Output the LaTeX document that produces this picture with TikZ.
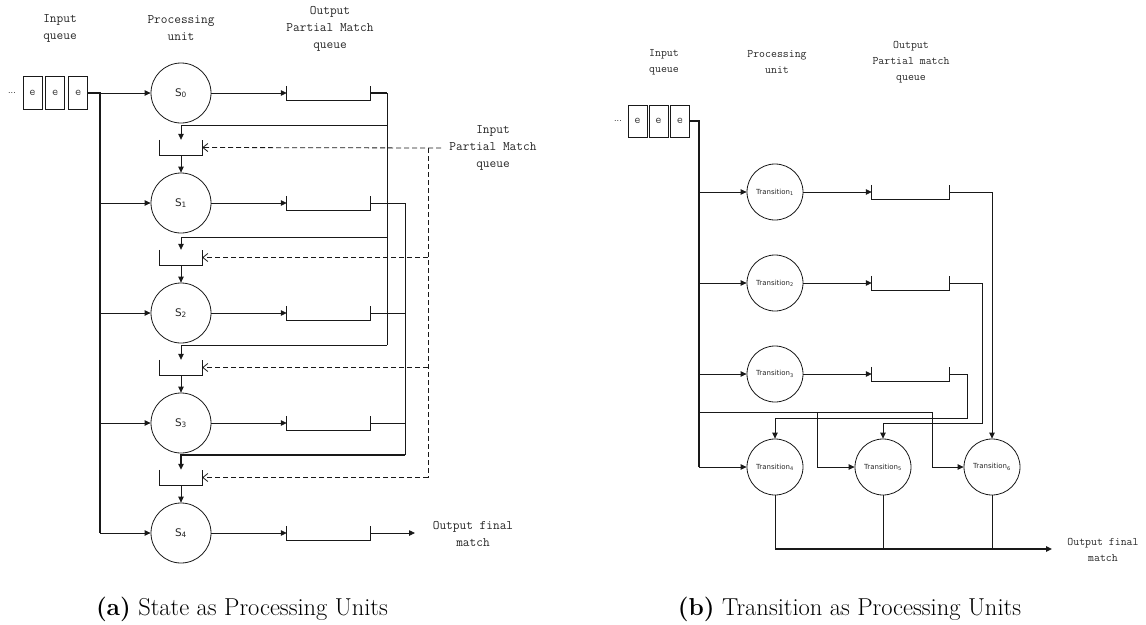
\documentclass[tikz,border=0pt]{standalone}
\usepackage{fontspec}
\usetikzlibrary{arrows.meta}
\newfontfamily\sfx{DejaVu Sans}
\tikzset{
  lblA/.style={font=\ttfamily\fontsize{13}{17}\selectfont, align=center, text=black!85, inner sep=0},
  lblB/.style={font=\ttfamily\fontsize{11.5}{16}\selectfont, align=center, text=black!85, inner sep=0},
  stnode/.style={circle, draw=black!90, line width=0.8pt, minimum size=60pt, inner sep=0, font=\sfx\fontsize{10.5}{12}\selectfont, text=black!85},
  trnode/.style={circle, draw=black!90, line width=0.8pt, minimum size=56pt, inner sep=0, font=\sfx\fontsize{7}{9}\selectfont, text=black!85},
  ebox/.style={draw=black!90, line width=0.8pt, minimum width=19pt, minimum height=33pt, inner sep=0, font=\ttfamily\fontsize{12}{12}\selectfont, text=black!75},
  oqA/.style={minimum width=83pt, minimum height=14pt, inner sep=0},
  oqB/.style={minimum width=77pt, minimum height=14pt, inner sep=0},
  iqA/.style={minimum width=42pt, minimum height=15pt, inner sep=0},
  ln/.style={line width=0.8pt, draw=black!90},
  thk/.style={line width=1.4pt, draw=black!90},
  arr/.style={ln, -{Triangle[length=6pt,width=5.5pt]}},
  tarr/.style={thk, -{Triangle[length=6pt,width=5.5pt]}},
  darr/.style={line width=0.8pt, draw=black!90, dash pattern=on 5pt off 3pt, -{Straight Barb[length=5pt,width=8pt]}},
  dln/.style={line width=0.8pt, draw=black!90, dash pattern=on 5pt off 3pt},
  captxt/.style={font=\fontsize{24.5}{28}\selectfont, inner sep=0},
}
\begin{document}
\begin{tikzpicture}[x=1pt,y=-1pt]
\useasboundingbox (0,0) rectangle (1146,624);

% ================= (a) =================
\node[lblA] (la1) at (60,28.5) {Input\\queue};
\node[lblA] (la2) at (181,28.5) {Processing\\unit};
\node[lblA] (la3) at (330,29) {Output\\Partial Match\\queue};
\node[lblA] (la4) at (493,148) {Input\\Partial Match\\queue};

\node[inner sep=0, font=\sfx\fontsize{8}{10}\selectfont, text=black!80] (dotsA) at (12,93) {...};
\node[ebox] (ea1) at (32.5,93) {e};
\node[ebox] (ea2) at (55.2,93) {e};
\node[ebox] (ea3) at (78.3,93) {e};

\foreach \i/\y in {0/93,1/203,2/313,3/423,4/533}{
  \node[stnode] (s\i) at (181,\y) {S\textsubscript{\i}};
  \node[oqA] (q\i) at (328.5,\y) {};
  \draw[ln] (q\i.north west) -- (q\i.south west) -- (q\i.south east) -- (q\i.north east);
  \draw[arr] (s\i.east) -- (q\i.west);
}
\foreach \i/\y in {1/147.5,2/257.5,3/367.5,4/477.5}{
  \node[iqA] (p\i) at (181,\y) {};
  \draw[ln] (p\i.north west) -- (p\i.south west) -- (p\i.south east) -- (p\i.north east);
  \draw[arr] (p\i.south) -- (s\i.north);
}

% input bus
\coordinate (busA0) at (100,93);
\coordinate (busA4) at (100,533);
\draw[thk] (ea3.east) -- (busA0) -- (busA4);
\draw[arr] (busA0) -- (s0.west);
\foreach \i/\y in {1/203,2/313,3/423,4/533}{
  \draw[arr] (100,\y) -- (s\i.west);
}

% S0 output to all following input queues
\coordinate (o0a) at (387,93);
\coordinate (o0b) at (387,345);
\draw[thk] (q0.east) -- (o0a);
\draw[ln] (o0a) -- (o0b);
\draw[arr] (387,125) -- (181,125) -- (p1.north);
\draw[arr] (387,237) -- (181,237) -- (p2.north);
\draw[arr] (o0b) -- (181,345) -- (p3.north);

% S1..S3 outputs to queue before S4
\coordinate (o1a) at (405,203);
\coordinate (o1b) at (405,455);
\draw[ln] (q1.east) -- (o1a) -- (o1b);
\draw[ln] (q2.east) -- (405,313);
\draw[ln] (q3.east) -- (405,423);
\draw[tarr] (o1b) -- (181,455) -- (p4.north);

% dashed input partial match
\coordinate (dA) at (428,148);
\coordinate (dB) at (428,477.5);
\draw[darr] (441,148) -- (p1.east);
\draw[dln] (dA) -- (dB);
\draw[darr] (dB) -- (p4.east);
\draw[darr] (428,257.5) -- (p2.east);
\draw[darr] (428,367.5) -- (p3.east);

% final output
\node[lblA] (la5) at (473,533.5) {Output final\\match};
\coordinate (finA) at (415,533);
\draw[arr] (q4.east) -- (finA);

\node[captxt] (capa) at (242,609) {\textbf{(a)} State as Processing Units};

% ================= (b) =================
\node[lblB] (lb1) at (664,62) {Input\\queue};
\node[lblB] (lb2) at (777,62) {Processing\\unit};
\node[lblB] (lb3) at (911,62.5) {Output\\Partial match\\queue};

\node[inner sep=0, font=\sfx\fontsize{8}{10}\selectfont, text=black!80] (dotsB) at (618,121) {...};
\node[ebox, minimum height=32pt] (eb1) at (637.5,121) {e};
\node[ebox, minimum height=32pt] (eb2) at (658.5,121) {e};
\node[ebox, minimum height=32pt] (eb3) at (680,121) {e};

\node[trnode] (t1) at (775,192) {Transition\textsubscript{1}};
\node[trnode] (t2) at (775,283) {Transition\textsubscript{2}};
\node[trnode] (t3) at (775,374) {Transition\textsubscript{3}};
\node[trnode] (t4) at (775,467) {Transition\textsubscript{4}};
\node[trnode] (t5) at (883,467) {Transition\textsubscript{5}};
\node[trnode] (t6) at (992,467) {Transition\textsubscript{6}};

\foreach \i/\y in {1/192,2/283,3/374}{
  \node[oqB] (r\i) at (910.5,\y) {};
  \draw[ln] (r\i.north west) -- (r\i.south west) -- (r\i.south east) -- (r\i.north east);
  \draw[arr] (t\i.east) -- (r\i.west);
}

\coordinate (busB0) at (699,121);
\coordinate (busB4) at (699,467);
\draw[thk] (eb3.east) -- (busB0) -- (busB4);
\draw[arr] (699,192) -- (t1.west);
\draw[arr] (699,283) -- (t2.west);
\draw[arr] (699,374) -- (t3.west);
\draw[arr] (busB4) -- (t4.west);
\draw[ln] (699,412) -- (817,412);
\draw[arr] (699,412) -- (817,412) -- (817,467) -- (t5.west);
\draw[arr] (817,412) -- (932,412) -- (932,467) -- (t6.west);

\draw[arr] (r1.east) -- (992,192) -- (t6.north);
\draw[arr] (r2.east) -- (982,283) -- (982,423) -- (883,423) -- (t5.north);
\draw[arr] (r3.east) -- (967,374) -- (967,418) -- (775,418) -- (t4.north);

\coordinate (fb4) at (775,549);
\coordinate (fb5) at (883,549);
\coordinate (fb6) at (992,549);
\coordinate (finB) at (1052,549);
\draw[ln] (t4.south) -- (fb4);
\draw[ln] (t5.south) -- (fb5);
\draw[ln] (t6.south) -- (fb6);
\draw[tarr] (fb4) -- (finB);
\node[lblB] (lb5) at (1103,550) {Output final\\match};

\node[captxt] (capb) at (849.5,609) {\textbf{(b)} Transition as Processing Units};
\end{tikzpicture}
\end{document}
